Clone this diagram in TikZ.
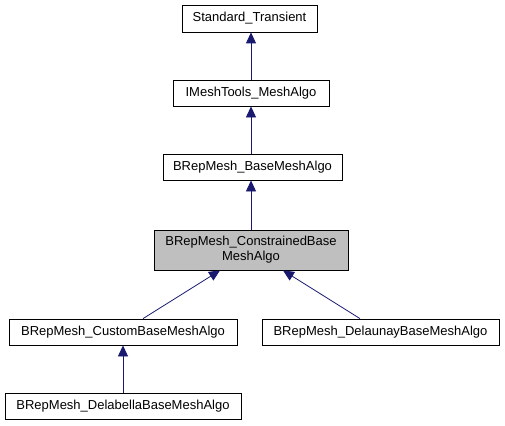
\documentclass[tikz,border=0pt]{standalone}
\usepackage{fontspec}
\setmainfont{Liberation Sans}
\usetikzlibrary{arrows.meta}
\definecolor{edgeblue}{HTML}{191970}
\definecolor{graybox}{HTML}{BFBFBF}
\begin{document}
\begin{tikzpicture}[x=1pt,y=-1pt,
  cls/.style={draw=black,fill=white,line width=0.8pt,inner sep=0pt,font=\fontsize{13}{15}\selectfont,align=center},
  inh/.style={draw=edgeblue,line width=0.8pt,-{Triangle[length=11pt,width=10pt]}}]
\useasboundingbox (0,0) rectangle (505,425);
\node[cls,minimum width=135pt,minimum height=27pt] (st) at (249.5,18.5) {Standard\_Transient};
\node[cls,minimum width=156pt,minimum height=26pt] (im) at (251,93) {IMeshTools\_MeshAlgo};
\node[cls,minimum width=179pt,minimum height=26pt] (bm) at (252.5,167) {BRepMesh\_BaseMeshAlgo};
\node[cls,fill=graybox,minimum width=194pt,minimum height=40pt] (cb) at (251,250) {BRepMesh\_ConstrainedBase\\MeshAlgo};
\node[cls,minimum width=228pt,minimum height=26pt] (cu) at (123,332) {BRepMesh\_CustomBaseMeshAlgo};
\node[cls,minimum width=237pt,minimum height=26pt] (de) at (380.5,332) {BRepMesh\_DelaunayBaseMeshAlgo};
\node[cls,minimum width=236pt,minimum height=26pt] (db) at (123,406) {BRepMesh\_DelabellaBaseMeshAlgo};
\draw[inh] (im.north) -- (im.north |- st.south);
\draw[inh] (cb.north |- bm.north) -- (cb.north |- im.south);
\draw[inh] (cb.north) -- (cb.north |- bm.south);
\draw[inh] ([xshift=20pt]cu.north) -- ([xshift=-31pt]cb.south);
\draw[inh] ([xshift=-20.5pt]de.north) -- ([xshift=32pt]cb.south);
\draw[inh] (db.north) -- (cu.south);
\end{tikzpicture}
\end{document}
